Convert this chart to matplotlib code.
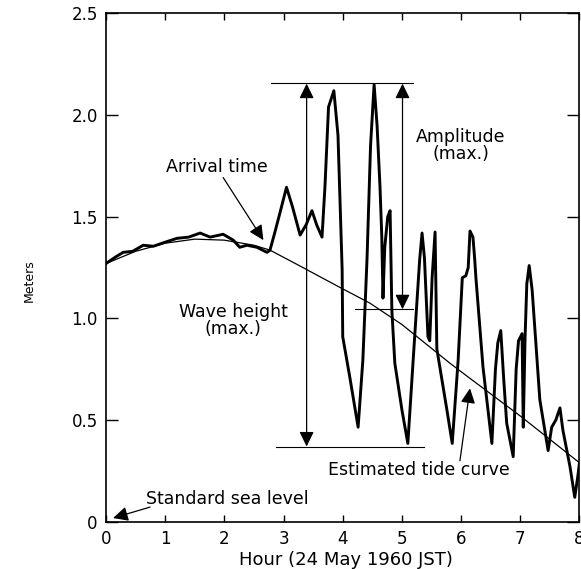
import matplotlib
matplotlib.use("Agg")
import matplotlib.pyplot as plt
from matplotlib.patches import FancyArrowPatch

# tide gauge record
wave_hour = [0, 0.15, 0.29, 0.45, 0.63, 0.8, 1.0, 1.2, 1.4, 1.59, 1.76, 1.98, 2.15, 2.26,
             2.38, 2.55, 2.72, 2.77, 2.85, 2.94, 3.05, 3.15, 3.28, 3.38, 3.48, 3.56, 3.65,
             3.70, 3.76, 3.85, 3.92, 3.99, 4.0, 4.12, 4.26, 4.34, 4.41, 4.47, 4.53, 4.58,
             4.63, 4.66, 4.68, 4.71, 4.76, 4.80, 4.83, 4.88, 5.0, 5.1, 5.19, 5.3, 5.34,
             5.38, 5.44, 5.47, 5.51, 5.56, 5.59, 5.76, 5.85, 5.95, 6.02, 6.08, 6.12, 6.15,
             6.2, 6.23, 6.25, 6.37, 6.52, 6.58, 6.62, 6.67, 6.72, 6.77, 6.88, 6.93, 6.97,
             7.03, 7.05, 7.08, 7.11, 7.15, 7.2, 7.33, 7.47, 7.53, 7.6, 7.67, 7.72, 7.84,
             7.92, 7.97, 8.0]
wave_m = [1.27, 1.30, 1.325, 1.33, 1.36, 1.355, 1.375, 1.394, 1.40, 1.42, 1.40, 1.414, 1.385,
          1.35, 1.36, 1.35, 1.325, 1.335, 1.42, 1.52, 1.645, 1.55, 1.41, 1.46, 1.53, 1.46,
          1.40, 1.65, 2.04, 2.12, 1.90, 1.24, 0.91, 0.71, 0.465, 0.795, 1.29, 1.85, 2.15,
          1.95, 1.645, 1.40, 1.10, 1.35, 1.50, 1.53, 1.04, 0.78, 0.55, 0.385, 0.795, 1.29,
          1.42, 1.30, 0.91, 0.89, 1.20, 1.425, 0.85, 0.55, 0.385, 0.795, 1.2, 1.21, 1.25,
          1.43, 1.40, 1.29, 1.2, 0.76, 0.385, 0.75, 0.88, 0.94, 0.70, 0.485, 0.32, 0.75,
          0.89, 0.925, 0.465, 0.9, 1.17, 1.26, 1.14, 0.6, 0.35, 0.465, 0.50, 0.56, 0.45,
          0.27, 0.12, 0.22, 0.29]

# estimated tide curve
tide_hour = [0, 0.5, 1.0, 1.5, 2.0, 2.5, 2.77, 3.2, 3.95, 4.46, 5.0, 5.81, 6.15, 7.0, 8.0]
tide_m = [1.27, 1.33, 1.37, 1.39, 1.385, 1.36, 1.336, 1.27, 1.153, 1.075, 0.97, 0.78,
          0.705, 0.52, 0.29]

xticks = [0, 1, 2, 3, 4, 5, 6, 7, 8]
yticks = [0, 0.5, 1.0, 1.5, 2.0, 2.5]
ytick_labels = ["0", "0.5", "1.0", "1.5", "2.0", "2.5"]

plt.rcParams['font.family'] = ['DejaVu Sans']

fig = plt.figure(figsize=(5.81, 5.69), dpi=100)
ax = fig.add_axes([0.1824, 0.0831, 0.815, 0.8932])

ax.plot(tide_hour, tide_m, color="black", lw=0.9)
ax.plot(wave_hour, wave_m, color="black", lw=2.1, solid_joinstyle="round")

ax.set_xlim(0, 8)
ax.set_ylim(0, 2.5)
ax.set_xticks(xticks)
ax.set_yticks(yticks)
ax.set_yticklabels(ytick_labels)
ax.tick_params(direction="in", top=True, right=True, labelsize=12, width=1)
ax.tick_params(axis="x", length=5, pad=6)
ax.tick_params(axis="y", length=8.5, pad=6)
for s in ax.spines.values():
    s.set_linewidth(1.2)

ax.set_xlabel("Hour (24 May 1960 JST)", fontsize=13)
ax.xaxis.set_label_coords(0.506, -0.058)
ax.set_ylabel("Meters", fontsize=9)
ax.yaxis.set_label_coords(-0.148, 0.474)

# guide lines
ax.plot([2.79, 5.18], [2.16, 2.16], color="black", lw=0.8)
ax.plot([2.87, 5.37], [0.366, 0.366], color="black", lw=0.8)
ax.plot([4.21, 5.19], [1.045, 1.045], color="black", lw=0.8)


def arrow(p0, p1, style):
    a = FancyArrowPatch(p0, p1, arrowstyle=style, mutation_scale=20, color="black",
                        lw=0.9, shrinkA=0, shrinkB=0)
    ax.add_patch(a)


both = "<|-|>,head_length=0.45,head_width=0.22"
one = "-|>,head_length=0.45,head_width=0.22"
arrow((3.39, 0.37), (3.39, 2.155), both)
arrow((5.01, 1.045), (5.01, 2.155), both)
arrow((1.98, 1.693), (2.66, 1.385), one)
arrow((5.98, 0.30), (6.15, 0.656), one)
arrow((0.745, 0.072), (0.12, 0.018), one)

fs = 12.5
ax.text(1.88, 1.743, "Arrival time", fontsize=fs, ha="center", va="center")
ax.text(5.99, 1.852, "Amplitude\n(max.)", fontsize=fs, ha="center", va="center",
        linespacing=0.95)
ax.text(2.15, 0.99, "Wave height\n(max.)", fontsize=fs, ha="center", va="center",
        linespacing=0.95)
ax.text(5.28, 0.254, "Estimated tide curve", fontsize=fs, ha="center", va="center")
ax.text(2.05, 0.11, "Standard sea level", fontsize=fs, ha="center", va="center")

fig.savefig("out.png", dpi=100)
